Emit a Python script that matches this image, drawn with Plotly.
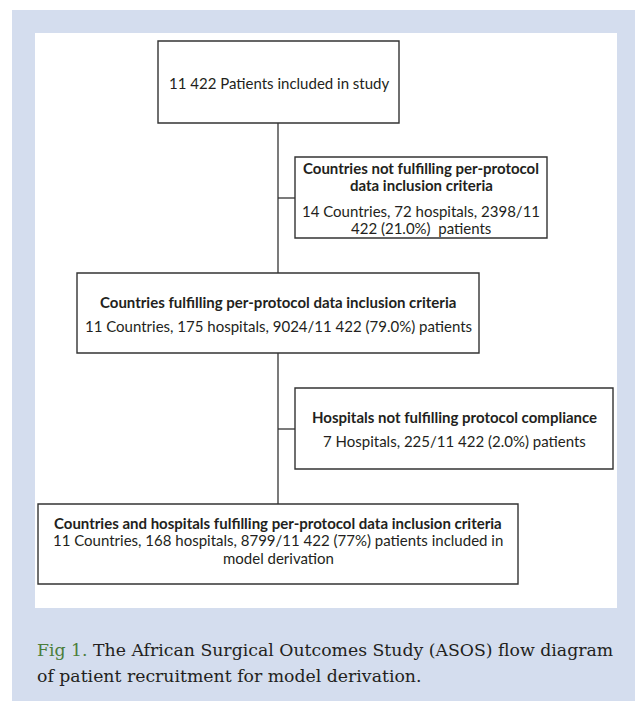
import plotly.graph_objects as go

# ---- content (text data) ----
box_headings = [
    [],
    ["Countries not fulfilling per-protocol", "data inclusion criteria"],
    ["Countries fulfilling per-protocol data inclusion criteria"],
    ["Hospitals not fulfilling protocol compliance"],
    ["Countries and hospitals fulfilling per-protocol data inclusion criteria"],
]
box_details = [
    ["11 422 Patients included in study"],
    ["14 Countries, 72 hospitals, 2398/11", "422 (21.0%)&nbsp; patients"],
    ["11 Countries, 175 hospitals, 9024/11 422 (79.0%) patients"],
    ["7 Hospitals, 225/11 422 (2.0%) patients"],
    ["11 Countries, 168 hospitals, 8799/11 422 (77%) patients included in", "model derivation"],
]
caption_label = "Fig 1."
caption_lines = ["The African Surgical Outcomes Study (ASOS) flow diagram",
                 "of patient recruitment for model derivation."]

# ---- layout geometry (pixels, y downwards) ----
W, H = 635, 701
box_rects = [  # x0, y0, x1, y1
    (158, 41, 399, 123),
    (295, 157, 547, 238),
    (77, 273, 479, 353),
    (295, 388, 613, 469),
    (38, 504, 518, 584),
]
heading_y = [[], [168, 185], [302], [417], [523]]
detail_y = [[83], [211, 228], [326], [441], [540, 558]]
trunk_x = 278
branches = [(198, 295), (429, 295)]
trunk_segments = [(123, 273), (353, 504)]

BLUE = "#d4ddee"
TEXT = "#231f20"
GREEN = "#4b7d3a"
BORDER = "#333333"
SANS = "Lato"
SERIF = "DejaVu Serif"
BOX_FS = 15
CAP_FS = 17.3

fig = go.Figure()
shapes = []
annotations = []

# background panels
shapes.append(dict(type="rect", x0=12, y0=10, x1=W + 5, y1=H + 5,
                   fillcolor=BLUE, line=dict(width=0), layer="below"))
shapes.append(dict(type="rect", x0=35, y0=33, x1=617, y1=608,
                   fillcolor="white", line=dict(width=0), layer="below"))

# connector lines
for y0, y1 in trunk_segments:
    shapes.append(dict(type="line", x0=trunk_x, x1=trunk_x, y0=y0, y1=y1,
                       line=dict(color=BORDER, width=1.3)))
for by, bx in branches:
    shapes.append(dict(type="line", x0=trunk_x, x1=bx, y0=by, y1=by,
                       line=dict(color=BORDER, width=1.3)))

# boxes and text
for i, (x0, y0, x1, y1) in enumerate(box_rects):
    shapes.append(dict(type="rect", x0=x0, y0=y0, x1=x1, y1=y1,
                       fillcolor="white", line=dict(color=BORDER, width=1.4)))
    cx = (x0 + x1) / 2
    for txt, ty in zip(box_headings[i], heading_y[i]):
        annotations.append(dict(x=cx, y=ty, xref="x", yref="y", text="<b>" + txt + "</b>",
                                showarrow=False, xanchor="center", yanchor="middle",
                                font=dict(family=SANS, size=BOX_FS, color=TEXT)))
    for txt, ty in zip(box_details[i], detail_y[i]):
        annotations.append(dict(x=cx, y=ty, xref="x", yref="y", text=txt,
                                showarrow=False, xanchor="center", yanchor="middle",
                                font=dict(family=SANS, size=BOX_FS, color=TEXT)))

# caption
annotations.append(dict(x=35, y=650, xref="x", yref="y",
                        text=f"<span style='color:{GREEN}'>{caption_label}</span> {caption_lines[0]}",
                        showarrow=False, xanchor="left", yanchor="middle",
                        font=dict(family=SERIF, size=CAP_FS, color=TEXT)))
annotations.append(dict(x=35, y=676, xref="x", yref="y", text=caption_lines[1],
                        showarrow=False, xanchor="left", yanchor="middle",
                        font=dict(family=SERIF, size=CAP_FS, color=TEXT)))

fig.update_layout(
    width=W, height=H,
    margin=dict(l=0, r=0, t=0, b=0),
    paper_bgcolor="white", plot_bgcolor="white",
    xaxis=dict(range=[0, W], visible=False, fixedrange=True),
    yaxis=dict(range=[H, 0], visible=False, fixedrange=True),
    shapes=shapes, annotations=annotations,
    showlegend=False,
)

fig.write_html("out.html", config={"displayModeBar": False},
               post_script="document.body.style.margin='0';document.body.style.overflow='hidden';")
